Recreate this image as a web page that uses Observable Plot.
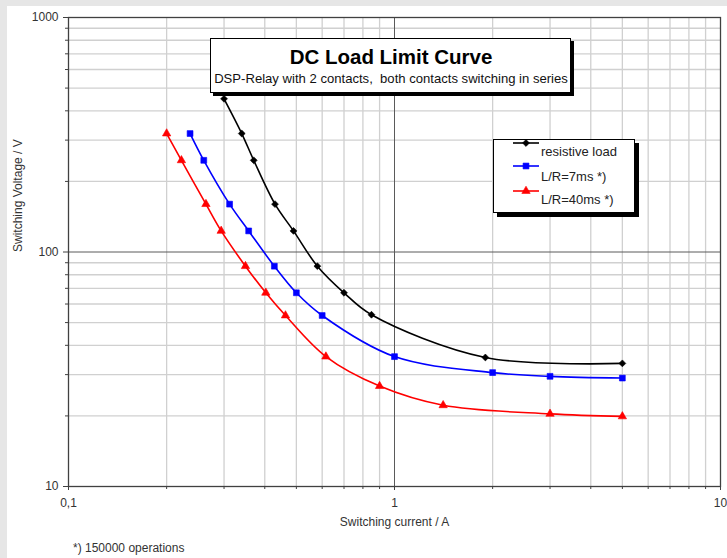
<!DOCTYPE html>
<html>
<head>
<meta charset="utf-8">
<script src="https://cdn.jsdelivr.net/npm/d3@7"></script>
<script src="https://cdn.jsdelivr.net/npm/@observablehq/plot@0.6"></script>
<style>
  body { margin: 0; font-family: "Liberation Sans", Arial, sans-serif; }
  #wrap { position: relative; width: 727px; height: 558px; background: #e6e6e6; overflow: hidden; }
  #inner { position: absolute; left: 7px; top: 6px; width: 720px; height: 552px; background: #fff; }
  #chart { position: absolute; left: 7px; top: 6px; }
  .abs { position: absolute; white-space: nowrap; color: #222; }
  #titlebox { position: absolute; left: 210px; top: 38px; width: 359px; height: 53px; background: #fff;
    border: 1px solid #000; box-shadow: 3px 3px 0 #000; }
  #legendbox { position: absolute; left: 493px; top: 139px; width: 140px; height: 72px; background: #fff;
    border: 1px solid #000; box-shadow: 4px 4px 0 #000; }
</style>
</head>
<body>
<div id="wrap">
  <div id="inner"></div>
  <div id="chart"></div>
  <div id="titlebox"></div>
  <div class="abs" style="left:210px;top:45px;width:362px;text-align:center;font-size:20.5px;font-weight:bold;color:#000;">DC Load Limit Curve</div>
  <div class="abs" style="left:210px;top:71px;width:362px;text-align:center;font-size:13.1px;color:#111;">DSP-Relay with 2 contacts,&nbsp; both contacts switching in series</div>
  <div id="legendbox"></div>
  <div id="legend"></div>
  <div class="abs" style="left:73px;top:541px;font-size:12px;color:#333;">*) 150000 operations</div>
</div>
<script>
// ---- data ----
const resistiveCurrent = [0.30, 0.34, 0.37, 0.43, 0.49, 0.58, 0.70, 0.85, 1.9, 5.0];
const resistiveVoltage = [450, 320, 246, 160, 123, 87, 67, 54, 35.5, 33.5];
const lr7Current = [0.236, 0.26, 0.312, 0.357, 0.428, 0.50, 0.60, 1.0, 2.0, 3.0, 5.0];
const lr7Voltage = [320, 246, 160, 123, 87, 67, 53.6, 35.8, 30.6, 29.5, 29.0];
const lr40Current = [0.20, 0.222, 0.264, 0.294, 0.349, 0.403, 0.463, 0.616, 0.90, 1.41, 3.0, 5.0];
const lr40Voltage = [320, 246, 160, 123, 87, 67, 53.6, 35.8, 26.8, 22.2, 20.4, 19.9];

const seriesNames = ["resistive load", "L/R=7ms *)", "L/R=40ms *)"];
const seriesColors = ["#000000", "#0000ff", "#ff0000"];
const seriesSymbols = ["diamond2", "square", "triangle"];
const seriesR = [3.1, 3.3, 3.1];

const xMajorTicks = [0.1, 1, 10];
const xMajorLabels = ["0,1", "1", "10"];
const xMinorTicks = [0.2, 0.3, 0.4, 0.5, 0.6, 0.7, 0.8, 0.9, 2, 3, 4, 5, 6, 7, 8, 9];
const yMajorTicks = [10, 100, 1000];
const yMajorLabels = ["10", "100", "1000"];
const yMinorTicks = [20, 30, 40, 50, 60, 70, 80, 90, 200, 300, 400, 500, 600, 700, 800, 900];

const xTitle = "Switching current / A";
const yTitle = "Switching Voltage / V";

// ---- build ----
const series = [
  resistiveCurrent.map((c, i) => ({current: c, voltage: resistiveVoltage[i]})),
  lr7Current.map((c, i) => ({current: c, voltage: lr7Voltage[i]})),
  lr40Current.map((c, i) => ({current: c, voltage: lr40Voltage[i]}))
];

const seriesMarks = series.flatMap((d, k) => [
  Plot.line(d, {x: "current", y: "voltage", curve: "catmull-rom", stroke: seriesColors[k], strokeWidth: 1.6}),
  Plot.dot(d, {x: "current", y: "voltage", symbol: seriesSymbols[k], fill: seriesColors[k], stroke: seriesColors[k], strokeWidth: 0.6, r: seriesR[k]})
]);

const chart = Plot.plot({
  width: 720,
  height: 552,
  marginLeft: 61,
  marginTop: 11,
  marginRight: 7,
  marginBottom: 72,
  style: {background: "transparent", fontFamily: "'Liberation Sans', Arial, sans-serif", fontSize: "12px", color: "#333"},
  x: {type: "log", domain: [0.1, 10], axis: null, label: null},
  y: {type: "log", domain: [10, 1000], axis: null, label: null},
  marks: [
    Plot.ruleX(xMinorTicks, {stroke: "#d0d0d0", strokeWidth: 1.3}),
    Plot.ruleY(yMinorTicks, {stroke: "#d0d0d0", strokeWidth: 1.3}),
    Plot.ruleX([1], {stroke: "#5a5a5a", strokeWidth: 1}),
    Plot.ruleY([100], {stroke: "#5a5a5a", strokeWidth: 1}),
    Plot.frame({stroke: "#404040", strokeWidth: 1.3}),
    Plot.axisX(xMinorTicks, {tickSize: 3, tickFormat: () => "", label: null, stroke: "#404040"}),
    Plot.axisY(yMinorTicks, {tickSize: 3, tickFormat: () => "", label: null, stroke: "#404040"}),
    Plot.axisX(xMajorTicks, {tickSize: 4, tickPadding: 8, label: null, stroke: "#404040", fill: "#333",
      tickFormat: (d) => xMajorLabels[xMajorTicks.indexOf(d)]}),
    Plot.axisY(yMajorTicks, {tickSize: 5, tickPadding: 5, label: null, stroke: "#404040", fill: "#333",
      tickFormat: (d) => yMajorLabels[yMajorTicks.indexOf(d)]}),
    Plot.text([xTitle], {frameAnchor: "bottom", dy: 39, fill: "#333", fontSize: 12}),
    Plot.text([yTitle], {frameAnchor: "left", dx: -50, rotate: -90, fill: "#333", fontSize: 12}),
    ...seriesMarks
  ]
});
document.getElementById("chart").appendChild(chart);

// ---- legend ----
const swatchY = [141, 164, 189];
const textY = [152, 177, 200];
const legend = document.getElementById("legend");
const symbolPath = (name, r) => {
  const map = {diamond2: d3.symbolDiamond2, square: d3.symbolSquare, triangle: d3.symbolTriangle};
  return d3.symbol(map[name], Math.PI * r * r)();
};
seriesNames.forEach((name, k) => {
  const sw = document.createElement("div");
  sw.className = "abs";
  sw.style.left = "511px";
  sw.style.top = (swatchY[k] - 6) + "px";
  sw.innerHTML = `<svg width="30" height="12"><line x1="2" x2="28" y1="6" y2="6" stroke="${seriesColors[k]}" stroke-width="1.6"/>` +
    `<path transform="translate(15,6)" d="${symbolPath(seriesSymbols[k], seriesR[k])}" fill="${seriesColors[k]}" stroke="${seriesColors[k]}" stroke-width="0.6"/></svg>`;
  legend.appendChild(sw);
  const t = document.createElement("div");
  t.className = "abs";
  t.style.left = "541px";
  t.style.top = (textY[k] - 8) + "px";
  t.style.fontSize = "13px";
  t.style.color = "#222";
  t.textContent = name;
  legend.appendChild(t);
});
</script>
</body>
</html>
